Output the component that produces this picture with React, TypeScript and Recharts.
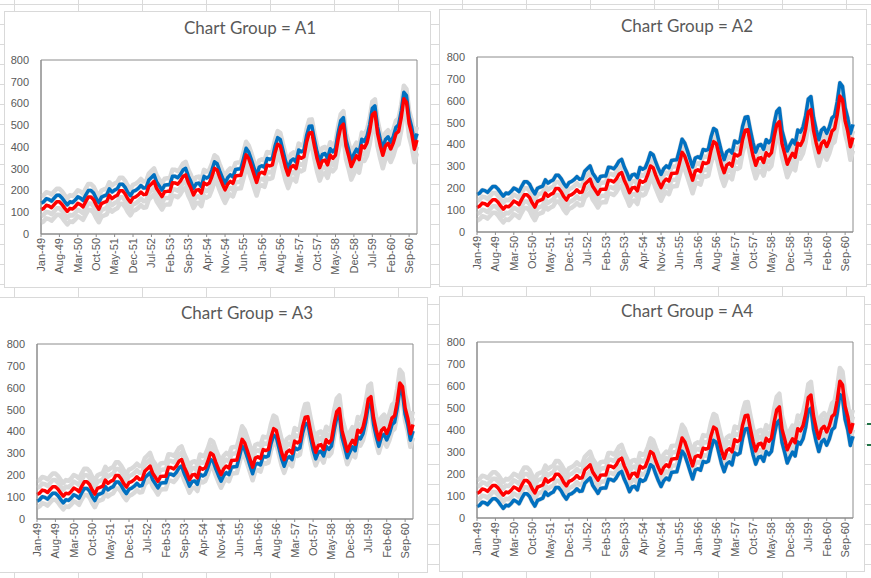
import React from 'react';
import { LineChart, Line, XAxis, YAxis, ReferenceArea } from 'recharts';

const MONTHS = ['Jan', 'Feb', 'Mar', 'Apr', 'May', 'Jun', 'Jul', 'Aug', 'Sep', 'Oct', 'Nov', 'Dec'];
const YEARS = ['49', '50', '51', '52', '53', '54', '55', '56', '57', '58', '59', '60'];
const CATEGORIES = YEARS.flatMap((y) => MONTHS.map((m) => `${m}-${y}`));

const Y_TICKS = [0, 100, 200, 300, 400, 500, 600, 700, 800];

// Red reference series
const BASE = [
  112, 118, 132, 129, 121, 135, 148, 148, 136, 119, 104, 118,
  115, 126, 141, 135, 125, 149, 170, 170, 158, 133, 114, 140,
  145, 150, 178, 163, 172, 178, 199, 199, 184, 162, 146, 166,
  171, 180, 193, 181, 183, 218, 230, 242, 209, 191, 172, 194,
  196, 196, 236, 235, 229, 243, 264, 272, 237, 211, 180, 201,
  204, 188, 235, 227, 234, 264, 302, 293, 259, 229, 203, 229,
  242, 233, 267, 269, 270, 315, 364, 347, 312, 274, 237, 278,
  284, 277, 317, 313, 318, 374, 413, 405, 355, 306, 271, 306,
  315, 301, 356, 348, 355, 422, 465, 467, 404, 347, 305, 336,
  340, 318, 362, 348, 363, 435, 491, 505, 404, 359, 310, 337,
  360, 342, 406, 396, 420, 472, 548, 559, 463, 407, 362, 405,
  417, 391, 419, 461, 472, 535, 622, 606, 508, 461, 390, 432,
];

const GROUP_A1 = [
  142, 148, 162, 159, 151, 165, 178, 178, 166, 149, 134, 148,
  145, 156, 171, 165, 155, 179, 200, 200, 188, 163, 144, 170,
  175, 180, 208, 193, 202, 208, 229, 229, 214, 192, 176, 196,
  201, 210, 223, 211, 213, 248, 260, 272, 239, 221, 202, 224,
  226, 226, 266, 265, 259, 273, 294, 302, 267, 241, 210, 231,
  234, 218, 265, 257, 264, 294, 332, 323, 289, 259, 233, 259,
  272, 263, 297, 299, 300, 345, 394, 377, 342, 304, 267, 308,
  314, 307, 347, 343, 348, 404, 443, 435, 385, 336, 301, 336,
  345, 331, 386, 378, 385, 452, 495, 497, 434, 377, 335, 366,
  370, 348, 392, 378, 393, 465, 521, 535, 434, 389, 340, 367,
  390, 372, 436, 426, 450, 502, 578, 589, 493, 437, 392, 435,
  447, 421, 449, 491, 502, 565, 652, 636, 538, 491, 420, 462,
];

const GROUP_A2 = [
  172, 178, 192, 189, 181, 195, 208, 208, 196, 179, 164, 178,
  175, 186, 201, 195, 185, 209, 230, 230, 218, 193, 174, 200,
  205, 210, 238, 223, 232, 238, 259, 259, 244, 222, 206, 226,
  231, 240, 253, 241, 243, 278, 290, 302, 269, 251, 232, 254,
  256, 256, 296, 295, 289, 303, 324, 332, 297, 271, 240, 261,
  264, 248, 295, 287, 294, 324, 362, 353, 319, 289, 263, 289,
  302, 293, 327, 329, 330, 375, 424, 407, 372, 334, 297, 338,
  344, 337, 377, 373, 378, 434, 473, 465, 415, 366, 331, 366,
  375, 361, 416, 408, 415, 482, 525, 527, 464, 407, 365, 396,
  400, 378, 422, 408, 423, 495, 551, 565, 464, 419, 370, 397,
  420, 402, 466, 456, 480, 532, 608, 619, 523, 467, 422, 465,
  477, 451, 479, 521, 532, 595, 682, 666, 568, 521, 450, 492,
];

const GROUP_A3 = [
  82, 88, 102, 99, 91, 105, 118, 118, 106, 89, 74, 88,
  85, 96, 111, 105, 95, 119, 140, 140, 128, 103, 84, 110,
  115, 120, 148, 133, 142, 148, 169, 169, 154, 132, 116, 136,
  141, 150, 163, 151, 153, 188, 200, 212, 179, 161, 142, 164,
  166, 166, 206, 205, 199, 213, 234, 242, 207, 181, 150, 171,
  174, 158, 205, 197, 204, 234, 272, 263, 229, 199, 173, 199,
  212, 203, 237, 239, 240, 285, 334, 317, 282, 244, 207, 248,
  254, 247, 287, 283, 288, 344, 383, 375, 325, 276, 241, 276,
  285, 271, 326, 318, 325, 392, 435, 437, 374, 317, 275, 306,
  310, 288, 332, 318, 333, 405, 461, 475, 374, 329, 280, 307,
  330, 312, 376, 366, 390, 442, 518, 529, 433, 377, 332, 375,
  387, 361, 389, 431, 442, 505, 592, 576, 478, 431, 360, 402,
];

const GROUP_A4 = [
  52, 58, 72, 69, 61, 75, 88, 88, 76, 59, 44, 58,
  55, 66, 81, 75, 65, 89, 110, 110, 98, 73, 54, 80,
  85, 90, 118, 103, 112, 118, 139, 139, 124, 102, 86, 106,
  111, 120, 133, 121, 123, 158, 170, 182, 149, 131, 112, 134,
  136, 136, 176, 175, 169, 183, 204, 212, 177, 151, 120, 141,
  144, 128, 175, 167, 174, 204, 242, 233, 199, 169, 143, 169,
  182, 173, 207, 209, 210, 255, 304, 287, 252, 214, 177, 218,
  224, 217, 257, 253, 258, 314, 353, 345, 295, 246, 211, 246,
  255, 241, 296, 288, 295, 362, 405, 407, 344, 287, 245, 276,
  280, 258, 302, 288, 303, 375, 431, 445, 344, 299, 250, 277,
  300, 282, 346, 336, 360, 412, 488, 499, 403, 347, 302, 345,
  357, 331, 359, 401, 412, 475, 562, 546, 448, 401, 330, 372,
];

const GROUP_KEYS = ['A1', 'A2', 'A3', 'A4'];

const DATA = CATEGORIES.map((c, i) => ({
  month: c,
  base: BASE[i],
  A1: GROUP_A1[i],
  A2: GROUP_A2[i],
  A3: GROUP_A3[i],
  A4: GROUP_A4[i],
}));

const LAYOUT = [
  { key: 'A1', box: { x: 4, y: 11, w: 427, h: 277 }, plot: { l: 41, r: 417, t: 60, b: 234 }, title: { cx: 250, cy: 28 } },
  { key: 'A2', box: { x: 439, y: 9, w: 428, h: 278 }, plot: { l: 477, r: 853, t: 57, b: 232 }, title: { cx: 687, cy: 26 } },
  { key: 'A3', box: { x: -3, y: 297, w: 431, h: 276 }, plot: { l: 37, r: 413, t: 344, b: 519 }, title: { cx: 247, cy: 313 } },
  { key: 'A4', box: { x: 439, y: 296, w: 426, h: 276 }, plot: { l: 477, r: 853, t: 342, b: 518 }, title: { cx: 687, cy: 311 } },
];

const TEXT = '#595959';
const FONT = '"Liberation Sans", Arial, sans-serif';
const Y_AXIS_W = 30;

const XTick = (props: any) => {
  const { x, y, payload } = props;
  return (
    <g transform={`translate(${x},${y})`}>
      <text
        x={0}
        y={0}
        dy="0.35em"
        textAnchor="end"
        transform="rotate(-90)"
        fill={TEXT}
        fontSize={11}
        fontFamily={FONT}
      >
        {payload.value}
      </text>
    </g>
  );
};

const Panel = ({ cfg }: { cfg: (typeof LAYOUT)[number] }) => {
  const { box, plot, title, key } = cfg;
  const margin = {
    top: plot.t - box.y,
    right: box.x + box.w - plot.r,
    bottom: 0,
    left: plot.l - box.x - Y_AXIS_W,
  };
  const xAxisH = box.y + box.h - plot.b;
  return (
    <>
      <div
        style={{
          position: 'absolute',
          left: box.x,
          top: box.y,
          width: box.w,
          height: box.h,
          boxSizing: 'border-box',
          border: '1px solid #d9d9d9',
          background: '#ffffff',
        }}
      />
      <div
        style={{
          position: 'absolute',
          left: title.cx - 150,
          top: title.cy - 11,
          width: 300,
          height: 22,
          lineHeight: '22px',
          textAlign: 'center',
          fontFamily: 'Lato, "Liberation Sans", sans-serif',
          fontSize: 17,
          color: TEXT,
          whiteSpace: 'nowrap',
        }}
      >
        {`Chart Group = ${key}`}
      </div>
      <div style={{ position: 'absolute', left: box.x, top: box.y }}>
        <LineChart width={box.w} height={box.h} data={DATA} margin={margin}>
          <XAxis
            dataKey="month"
            interval={6}
            height={xAxisH}
            tick={<XTick />}
            tickSize={3}
            tickMargin={1}
            tickLine={{ stroke: '#8c8c8c' }}
            axisLine={{ stroke: '#8c8c8c' }}
            padding={{ left: 0, right: 0 }}
          />
          <YAxis
            width={Y_AXIS_W}
            domain={[0, 800]}
            ticks={Y_TICKS}
            interval={0}
            tickLine={false}
            tickSize={0}
            tickMargin={12}
            axisLine={{ stroke: '#8c8c8c' }}
            tick={{ fill: TEXT, fontSize: 11, fontFamily: FONT }}
          />
          <ReferenceArea
            x1={CATEGORIES[0]}
            x2={CATEGORIES[CATEGORIES.length - 1]}
            y1={0}
            y2={800}
            fill="none"
            stroke="#8c8c8c"
            strokeWidth={1}
            fillOpacity={0}
          />
          {GROUP_KEYS.map((g) => (
            <Line
              key={g}
              type="linear"
              dataKey={g}
              stroke="#d9d9d9"
              strokeWidth={4.5}
              dot={false}
              isAnimationActive={false}
              strokeLinejoin="round"
            />
          ))}
          <Line
            type="linear"
            dataKey={key}
            stroke="#0070c0"
            strokeWidth={3.5}
            dot={false}
            isAnimationActive={false}
            strokeLinejoin="round"
          />
          <Line
            type="linear"
            dataKey="base"
            stroke="#ff0000"
            strokeWidth={3.5}
            dot={false}
            isAnimationActive={false}
            strokeLinejoin="round"
          />
        </LineChart>
      </div>
    </>
  );
};

export default function App() {
  return (
    <div
      style={{
        position: 'absolute',
        left: 0,
        top: 0,
        width: 871,
        height: 578,
        overflow: 'hidden',
        background: '#ffffff',
        backgroundImage:
          'linear-gradient(to right, #dadada 1px, transparent 1px), linear-gradient(to bottom, #dadada 1px, transparent 1px)',
        backgroundSize: '64px 20px',
        backgroundPosition: '14px 4px',
      }}
    >
      {LAYOUT.map((cfg) => (
        <Panel key={cfg.key} cfg={cfg} />
      ))}
      <div style={{ position: 'absolute', left: 867, top: 423, width: 4, height: 2, background: '#217346' }} />
      <div style={{ position: 'absolute', left: 867, top: 444, width: 4, height: 2, background: '#217346' }} />
    </div>
  );
}
